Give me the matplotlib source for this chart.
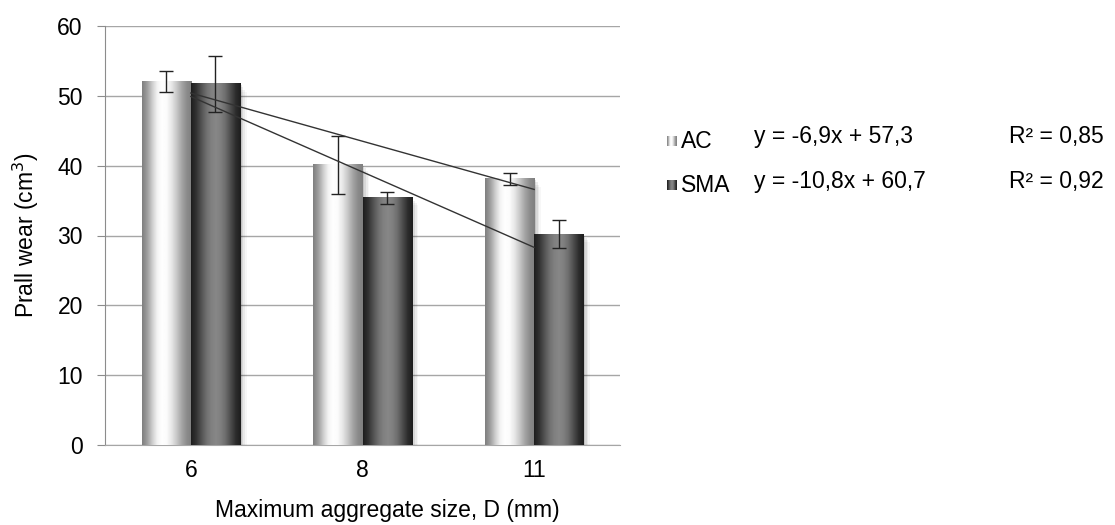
import matplotlib
matplotlib.use('Agg')
import matplotlib.pyplot as plt
import numpy as np

plt.rcParams['font.family'] = ['Liberation Sans', 'DejaVu Sans']

#----------------------------------------------------
# Data
#----------------------------------------------------
categories = ['6', '8', '11']
ac_values = [52.0, 40.1, 38.1]
sma_values = [51.7, 35.4, 30.2]
ac_err = [1.5, 4.2, 0.8]
sma_err = [4.0, 0.9, 2.0]
# trend lines (linear, as printed on the chart)
ac_fit = [-6.9, 57.3]
sma_fit = [-10.8, 60.7]
ac_eq = 'y = -6,9x + 57,3'
sma_eq = 'y = -10,8x + 60,7'
ac_r2 = 'R² = 0,85'
sma_r2 = 'R² = 0,92'

FS = 16.5

#----------------------------------------------------
# Gradient profiles for the cylinder-like bars
#----------------------------------------------------
ac_shade = np.array([0.50, 0.62, 0.80, 0.95, 1.0, 0.98, 0.90, 0.78, 0.65, 0.55, 0.50])
sma_shade = np.array([0.12, 0.20, 0.32, 0.43, 0.50, 0.53, 0.50, 0.42, 0.30, 0.18, 0.12])

def shade_profile(p, n=60):
    xs = np.linspace(0, 1, len(p))
    return np.interp(np.linspace(0, 1, n), xs, p)

fig = plt.figure(figsize=(11.15, 5.25), dpi=100)
ax = fig.add_axes([105/1115, 80/525, 515/1115, 419/525])

x = np.arange(1, len(categories) + 1)
w = 0.286

def gradient_bar(ax, x0, h, prof):
    # soft shadow on the right
    for k, a in enumerate([0.10, 0.07, 0.05, 0.03]):
        ax.add_patch(plt.Rectangle((x0 + w, 0), 0.01 * (k + 1), h - 0.2 - 0.3 * k,
                                   color='k', alpha=a, lw=0, zorder=2))
    img = shade_profile(prof)[np.newaxis, :]
    ax.imshow(img, cmap='gray', vmin=0, vmax=1, aspect='auto',
              extent=(x0, x0 + w, 0, h), zorder=3, interpolation='bilinear')

for i in range(len(categories)):
    gradient_bar(ax, x[i] - w, ac_values[i], ac_shade)
    gradient_bar(ax, x[i], sma_values[i], sma_shade)

ax.errorbar(x - w / 2, ac_values, yerr=ac_err, fmt='none', ecolor='#222222',
            elinewidth=1, capsize=5, capthick=1, zorder=5)
ax.errorbar(x + w / 2, sma_values, yerr=sma_err, fmt='none', ecolor='#222222',
            elinewidth=1, capsize=5, capthick=1, zorder=5)

# trend lines between first and last category
xt = np.array([x[0], x[-1]])
ax.plot(xt, np.polyval(ac_fit, xt), color='#333333', lw=1, zorder=6)
ax.plot(xt, np.polyval(sma_fit, xt), color='#333333', lw=1, zorder=6)

ax.set_xlim(0.5, len(categories) + 0.5)
ax.set_ylim(0, 60)
ax.set_yticks(np.arange(0, 61, 10))
ax.set_xticks(x)
ax.set_xticklabels(categories)
ax.yaxis.grid(True, color='#a6a6a6', lw=1)
ax.set_axisbelow(True)
for s in ['top', 'right']:
    ax.spines[s].set_visible(False)
ax.spines['left'].set_color('#8c8c8c')
ax.spines['bottom'].set_color('#a6a6a6')
ax.tick_params(axis='y', length=6, color='#8c8c8c', labelsize=FS, pad=10)
ax.tick_params(axis='x', length=0, labelsize=FS, pad=10)
ax.set_xlabel('Maximum aggregate size, D (mm)', fontsize=FS)
ax.xaxis.set_label_coords(0.548, -0.128)
ax.set_ylabel('Prall wear (cm$^3$)', fontsize=FS, labelpad=12)

#----------------------------------------------------
# Legend with equations (figure coordinates)
#----------------------------------------------------
def legend_row(yc, prof, label, eq, r2):
    pax = fig.add_axes([667/1115, 1 - (yc + 5)/525, 10/1115, 10/525])
    pax.imshow(shade_profile(prof)[np.newaxis, :], cmap='gray', vmin=0, vmax=1,
               aspect='auto', interpolation='bilinear')
    pax.axis('off')
    fig.text(681/1115, 1 - yc/525, label, fontsize=FS, va='center')
    fig.text(754/1115, 1 - (yc - 4)/525, eq, fontsize=FS, va='center')
    fig.text(1009/1115, 1 - (yc - 4)/525, r2, fontsize=FS, va='center')

legend_row(141, ac_shade, 'AC', ac_eq, ac_r2)
legend_row(185, sma_shade, 'SMA', sma_eq, sma_r2)

fig.savefig('out.png', dpi=100)
